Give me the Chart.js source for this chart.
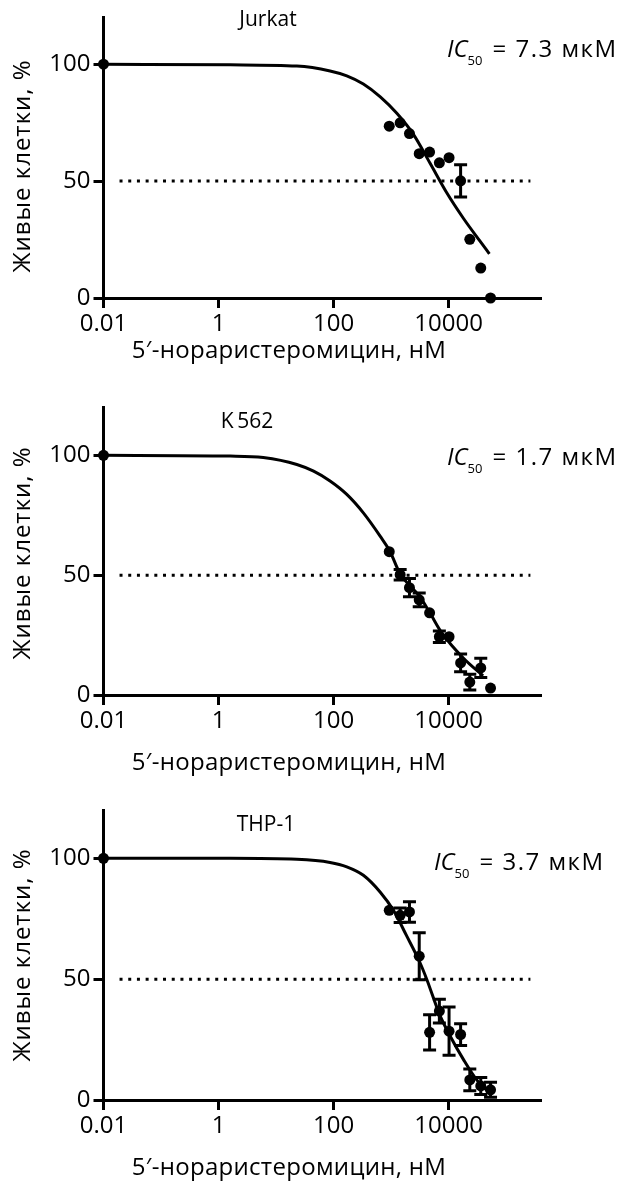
<!DOCTYPE html>
<html>
<head>
<meta charset="utf-8">
<script src="https://cdn.jsdelivr.net/npm/chart.js@4.4.1/dist/chart.umd.min.js"></script>
<style>
  html, body { margin: 0; padding: 0; background: #fff; }
  #wrap { position: relative; width: 628px; height: 1184px; }
  canvas { position: absolute; left: 0; }
</style>
</head>
<body>
<div id="wrap">
  <canvas id="c1" width="628" height="385" style="top:0px"></canvas>
  <canvas id="c2" width="628" height="390" style="top:390px"></canvas>
  <canvas id="c3" width="628" height="394" style="top:790px"></canvas>
</div>
<script>
// концентрации (нМ) и доля живых клеток, %
const conc = [0.01, 930, 1440, 2090, 3090, 4680, 6920, 10200, 16200, 23400, 36300, 53700];

const jurkatViability = [100, 73.5, 74.9, 70.3, 61.7, 62.4, 57.8, 60, 50.1, 25.1, 12.8, 0];
const jurkatError     = [0, 0, 0, 0, 0, 0, 0, 0, 6.9, 0, 0, 0];
const k562Viability   = [100, 59.8, 50.2, 44.8, 39.7, 34.3, 24.3, 24.3, 13.4, 5.4, 11.3, 2.9];
const k562Error       = [0, 0, 2.2, 3.8, 2.9, 0, 2.4, 0, 3.7, 3.3, 4, 0];
const thp1Viability   = [100, 78.5, 76.4, 77.8, 59.5, 28, 36.8, 28.5, 27.1, 8.3, 5.8, 4.2];
const thp1Error       = [0, 0, 3, 4.2, 9.7, 7.3, 4.9, 10, 4.5, 4.5, 3.5, 3.1];

// аппроксимирующие кривые
const jurkatFitConc = [0.01, 1.6, 23, 87, 170, 330, 650, 1260, 2450, 4800, 9300, 18200, 35500, 51300];
const jurkatFit     = [100, 99.7, 99.2, 97.1, 95, 91.5, 86, 79, 70, 57.5, 45, 34, 24.2, 18.9];
const k562FitConc   = [0.01, 1.6, 6, 23, 45, 87, 170, 330, 650, 955, 1410, 3160, 4680, 7590, 18200, 39800];
const k562Fit       = [100, 99.7, 99.1, 96.2, 93.4, 89.3, 83.7, 76, 66.2, 60, 51, 41, 34.5, 26, 15.3, 8];
const thp1FitConc   = [0.01, 1.6, 23, 87, 170, 330, 650, 1100, 1860, 3160, 4170, 7080, 10700, 18200, 30900, 52500];
const thp1Fit       = [100, 100, 99.6, 98.3, 96.5, 93, 86, 78.5, 68, 57, 50, 35, 26.4, 16.7, 8.3, 2.8];

const xTicks = [0.01, 1, 100, 10000];
const xTickLabels = ['0.01', '1', '100', '10000'];
const yTicks = [0, 50, 100];
const halfLevel = 50;
const halfLineConc = [0.019, 265000];

const cellLines = ['Jurkat', 'K\u2009562', 'THP-1'];
const ic50Values = ['7.3', '1.7', '3.7'];
const xTitle = '5\u2032-нораристеромицин, нМ';
const yTitle = 'Живые клетки, %';

const FONT = "'Open Sans', sans-serif";
Chart.defaults.font.family = FONT;
Chart.defaults.color = '#000';

// усы погрешностей через шкалы Chart.js
const errorBars = {
  id: 'errorBars',
  afterDatasetsDraw(chart){
    const ds = chart.data.datasets.find(d => d.errors);
    if(!ds) return;
    const {x, y} = chart.scales, c = chart.ctx;
    c.save(); c.strokeStyle = '#000'; c.lineWidth = 3;
    ds.data.forEach((p, i) => {
      const e = ds.errors[i]; if(!e) return;
      const px = x.getPixelForValue(p.x), y1 = y.getPixelForValue(p.y + e), y2 = y.getPixelForValue(p.y - e);
      c.beginPath();
      c.moveTo(px, y1); c.lineTo(px, y2);
      c.moveTo(px - 6.5, y1); c.lineTo(px + 6.5, y1);
      c.moveTo(px - 6.5, y2); c.lineTo(px + 6.5, y2);
      c.stroke();
    });
    c.restore();
  }
};

const labels = {
  id: 'labels',
  afterDraw(chart, args, o){
    const c = chart.ctx;
    c.save(); c.fillStyle = '#000';
    c.textAlign = 'center'; c.textBaseline = 'middle';
    c.font = `21px ${FONT}`;
    c.fillText(o.name, o.nameX, o.nameY);
    c.font = `24px ${FONT}`;
    c.letterSpacing = '0.3px';
    c.fillText(xTitle, 289, o.xTitleY);
    c.save(); c.translate(23, o.yTitleY); c.rotate(-Math.PI / 2);
    c.letterSpacing = '1px';
    c.fillText(yTitle, 0, 0); c.restore();
    // IC50
    c.textAlign = 'left'; c.textBaseline = 'alphabetic';
    c.letterSpacing = '0px';
    let x = o.icX;
    c.font = `italic 24px ${FONT}`;
    c.fillText('IC', x, o.icY); x += c.measureText('IC').width;
    c.font = `13px ${FONT}`;
    c.fillText('50', x, o.icY + 8); x += c.measureText('50').width + 10;
    c.font = `24px ${FONT}`;
    c.letterSpacing = '1.5px';
    c.fillText('= ' + o.ic50 + ' мкМ', x, o.icY);
    c.restore();
  }
};

function makePanel(id, i, viability, errors, fitConc, fit, lay){
  const canvas = document.getElementById(id);
  const H = canvas.height;
  return new Chart(canvas, {
    type: 'line',
    data: { datasets: [
      { data: halfLineConc.map(v => ({x: v, y: halfLevel})), borderColor: '#000', borderWidth: 3,
        borderDash: [3, 5.7], pointRadius: 0 },
      { data: fitConc.map((v, k) => ({x: v, y: fit[k]})), borderColor: '#000', borderWidth: 3,
        pointRadius: 0, cubicInterpolationMode: 'monotone', clip: false },
      { data: conc.map((v, k) => ({x: v, y: viability[k]})), errors, showLine: false,
        pointRadius: 5.5, pointBackgroundColor: '#000', pointBorderWidth: 0, clip: false }
    ] },
    options: {
      responsive: false, animation: false, events: [],
      layout: { padding: { top: lay.top, right: 88, left: 0, bottom: 0 } },
      plugins: { legend: { display: false }, tooltip: { enabled: false },
        labels: { name: cellLines[i], ic50: ic50Values[i], ...lay.text } },
      scales: {
        x: { type: 'logarithmic', min: 0.01, max: 389000,
          afterFit(s){ s.height = H - lay.bottom; },
          afterBuildTicks(s){ s.ticks = xTicks.map(v => ({value: v})); },
          ticks: { font: { size: 24 }, padding: 2, maxRotation: 0, autoSkip: false,
            callback: (v) => xTickLabels[xTicks.indexOf(v)] ?? '' },
          grid: { drawOnChartArea: false, drawTicks: true, tickLength: 10, lineWidth: 3, tickWidth: 3, tickColor: '#000' },
          border: { display: true, width: 3, color: '#000' } },
        y: { min: 0, max: 120,
          afterFit(s){ s.width = 103.5; },
          afterBuildTicks(s){ s.ticks = yTicks.map(v => ({value: v})); },
          ticks: { font: { size: 24 }, padding: 3 },
          grid: { drawOnChartArea: false, drawTicks: true, tickLength: 10, lineWidth: 3, tickWidth: 3, tickColor: '#000' },
          border: { display: true, width: 3, color: '#000' } }
      }
    },
    plugins: [errorBars, labels]
  });
}

makePanel('c1', 0, jurkatViability, jurkatError, jurkatFitConc, jurkatFit,
  { top: 8.3, bottom: 298, text: { nameX: 268, nameY: 20, xTitleY: 351, yTitleY: 166, icX: 447, icY: 57 } });
makePanel('c2', 1, k562Viability, k562Error, k562FitConc, k562Fit,
  { top: 16.7, bottom: 305, text: { nameX: 247, nameY: 32, xTitleY: 373, yTitleY: 163, icX: 447, icY: 75 } });
makePanel('c3', 2, thp1Viability, thp1Error, thp1FitConc, thp1Fit,
  { top: 20, bottom: 310, text: { nameX: 266, nameY: 35, xTitleY: 378, yTitleY: 165, icX: 434, icY: 80 } });
</script>
</body>
</html>
